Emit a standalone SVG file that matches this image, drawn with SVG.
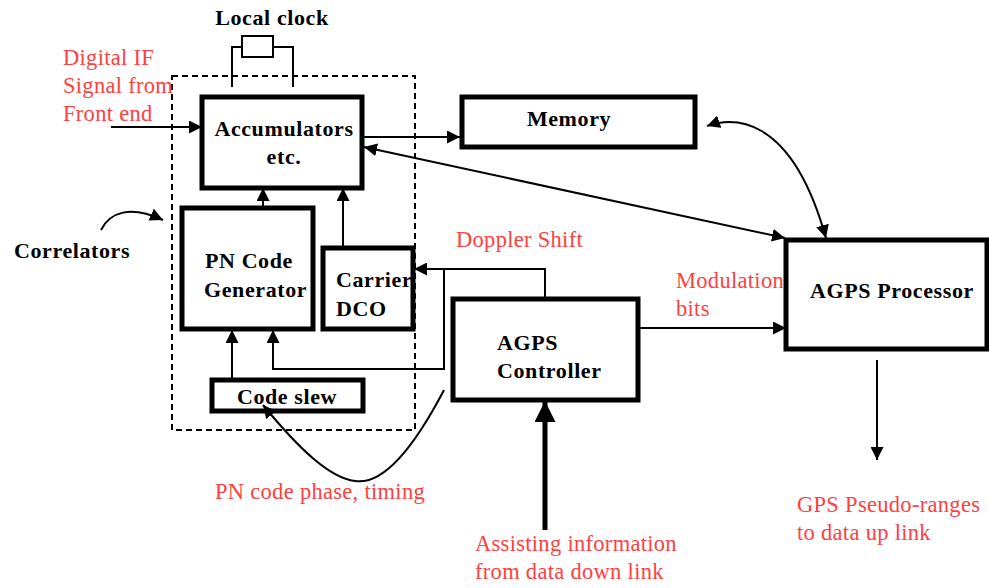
<svg xmlns="http://www.w3.org/2000/svg" width="989" height="588" viewBox="0 0 989 588">
<defs>
<marker id="ah" viewBox="0 0 10 10" refX="10" refY="5" markerWidth="6.5" markerHeight="6.5" markerUnits="strokeWidth" orient="auto-start-reverse">
<path d="M0,0 L10,5 L0,10 z" fill="#000"/>
</marker>
<marker id="ahs" viewBox="0 0 10 10" refX="10" refY="5" markerWidth="4.2" markerHeight="4.2" markerUnits="strokeWidth" orient="auto-start-reverse">
<path d="M0,0 L10,5 L0,10 z" fill="#000"/>
</marker>
<style>
.box{fill:#fff;stroke:#000;stroke-width:5}
.lbl{font-family:"Liberation Serif","Times New Roman",serif;font-weight:bold;font-size:22px;fill:#000;letter-spacing:0.6px}
.red{font-family:"Liberation Serif","Times New Roman",serif;font-size:22.5px;fill:#ff4040;letter-spacing:0.3px}
.ln{fill:none;stroke:#000;stroke-width:2}
</style>
</defs>
<rect width="989" height="588" fill="#fff"/>

<g id="correlators-box">
<rect x="172" y="76" width="243" height="354" fill="none" stroke="#000" stroke-width="2" stroke-dasharray="6,4"/>
</g>

<g id="local-clock">
<text class="lbl" x="272" y="25" text-anchor="middle">Local clock</text>
<rect x="242" y="36" width="31" height="21" fill="#fff" stroke="#000" stroke-width="2"/>
<path class="ln" d="M232,87 V47 H242 M273,47 H293 V87"/>
</g>

<g id="accumulators">
<rect class="box" x="202" y="97" width="160" height="91"/>
<text class="lbl" x="284" y="136" text-anchor="middle">Accumulators</text>
<text class="lbl" x="284" y="164" text-anchor="middle">etc.</text>
</g>

<g id="pn-code-generator">
<rect class="box" x="182" y="208" width="131" height="121"/>
<text class="lbl" x="205" y="268">PN Code</text>
<text class="lbl" x="204" y="297">Generator</text>
</g>

<g id="carrier-dco">
<rect class="box" x="323" y="248" width="90" height="81"/>
<text class="lbl" x="336" y="287">Carrier</text>
<text class="lbl" x="336" y="316">DCO</text>
</g>

<g id="code-slew">
<rect class="box" x="212" y="380" width="151" height="31"/>
<text class="lbl" x="287" y="404" text-anchor="middle">Code slew</text>
</g>

<g id="memory">
<rect class="box" x="462" y="97" width="233" height="50"/>
<text class="lbl" x="569" y="126" text-anchor="middle">Memory</text>
</g>

<g id="agps-controller">
<rect class="box" x="453" y="299" width="185" height="101"/>
<text class="lbl" x="497" y="350">AGPS</text>
<text class="lbl" x="497" y="378">Controller</text>
</g>

<g id="agps-processor">
<rect class="box" x="786" y="240" width="201" height="109"/>
<text class="lbl" x="892" y="298" text-anchor="middle">AGPS Processor</text>
</g>

<g id="labels">
<text class="lbl" x="14" y="258">Correlators</text>
<text class="red" x="63" y="65">Digital IF</text>
<text class="red" x="63" y="93">Signal from</text>
<text class="red" x="63" y="121">Front end</text>
<text class="red" x="456" y="247">Doppler Shift</text>
<text class="red" x="676" y="288">Modulation</text>
<text class="red" x="676" y="316">bits</text>
<text class="red" x="215" y="499">PN code phase, timing</text>
<text class="red" x="475" y="551">Assisting information</text>
<text class="red" x="475" y="579">from data down link</text>
<text class="red" x="797" y="512">GPS Pseudo-ranges</text>
<text class="red" x="797" y="540">to data up link</text>
</g>

<g id="connectors">
<line class="ln" x1="111" y1="127" x2="202" y2="127" marker-end="url(#ah)"/>
<line class="ln" x1="362" y1="137" x2="460" y2="137" marker-end="url(#ah)"/>
<line class="ln" x1="364" y1="147" x2="785" y2="238" marker-start="url(#ah)" marker-end="url(#ah)"/>
<path class="ln" d="M707,126 C730,118 790,110 826,238" marker-start="url(#ah)" marker-end="url(#ah)"/>
<line class="ln" x1="263" y1="208" x2="263" y2="188" marker-end="url(#ah)"/>
<line class="ln" x1="343" y1="248" x2="343" y2="188" marker-end="url(#ah)"/>
<line class="ln" x1="232" y1="380" x2="232" y2="330" marker-end="url(#ah)"/>
<polyline class="ln" points="545,299 545,269 414,269" marker-end="url(#ah)"/>
<polyline class="ln" points="444,269 444,369 273,369 273,330" marker-end="url(#ah)"/>
<line class="ln" x1="638" y1="328" x2="786" y2="328" marker-end="url(#ah)"/>
<line class="ln" x1="877" y1="360" x2="877" y2="460" marker-end="url(#ah)"/>
<line x1="545" y1="530" x2="545" y2="401" stroke="#000" stroke-width="5" fill="none" marker-end="url(#ahs)"/>
<path class="ln" d="M444,390 C410,455 380,485 355,481 C330,478 300,450 263,405" marker-end="url(#ah)"/>
<path class="ln" d="M101,230 C110,212 130,205 163,220" marker-end="url(#ah)"/>
</g>
</svg>
